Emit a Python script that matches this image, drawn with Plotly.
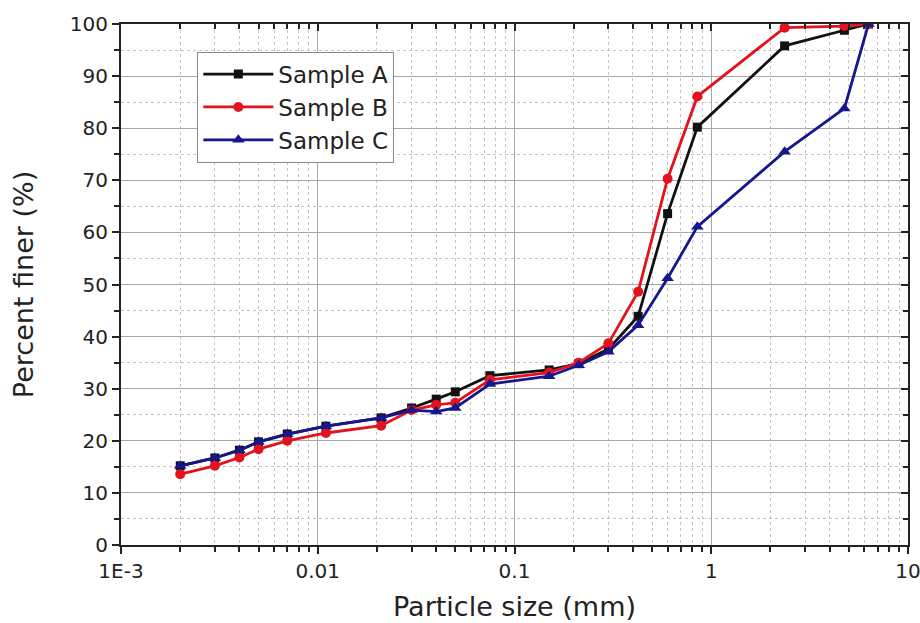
import plotly.graph_objects as go

# Particle sizes (mm)
size_a = [0.002, 0.003, 0.004, 0.005, 0.007, 0.011, 0.021, 0.03, 0.04, 0.05, 0.075, 0.15, 0.212, 0.3, 0.425, 0.6, 0.85, 2.36, 4.75, 6.3]
size_b = [0.002, 0.003, 0.004, 0.005, 0.007, 0.011, 0.021, 0.03, 0.04, 0.05, 0.075, 0.15, 0.212, 0.3, 0.425, 0.6, 0.85, 2.36, 4.75, 6.3]
size_c = [0.002, 0.003, 0.004, 0.005, 0.007, 0.011, 0.021, 0.03, 0.04, 0.05, 0.075, 0.15, 0.212, 0.3, 0.425, 0.6, 0.85, 2.36, 4.75, 6.3]

# Percent finer (%)
finer_a = [15.2, 16.7, 18.2, 19.8, 21.3, 22.8, 24.4, 26.3, 28.0, 29.4, 32.5, 33.6, 34.8, 37.6, 43.9, 63.6, 80.2, 95.8, 98.8, 100.0]
finer_b = [13.6, 15.2, 16.8, 18.4, 20.0, 21.5, 22.9, 25.9, 26.9, 27.3, 31.7, 33.1, 35.0, 38.7, 48.6, 70.3, 86.1, 99.3, 99.6, 100.0]
finer_c = [15.2, 16.7, 18.2, 19.8, 21.3, 22.8, 24.4, 25.9, 25.6, 26.3, 30.9, 32.4, 34.5, 37.1, 42.2, 51.2, 61.1, 75.5, 83.8, 100.0]

x_tickvals = [0.001, 0.01, 0.1, 1, 10]
x_ticktext = ["1E-3", "0.01", "0.1", "1", "10"]
x_minor_vals = [m * 10.0 ** e for e in range(-3, 1) for m in range(2, 10)]
y_tickvals = [0, 10, 20, 30, 40, 50, 60, 70, 80, 90, 100]
y_minor_vals = [5, 15, 25, 35, 45, 55, 65, 75, 85, 95]

BLACK = "#111111"
RED = "#e3121c"
BLUE = "#16168e"
AX = "#222222"

fig = go.Figure()
fig.add_trace(go.Scatter(x=size_a, y=finer_a, name="Sample A", mode="lines+markers",
                         line=dict(color=BLACK, width=2.8),
                         marker=dict(symbol="square", size=9, color=BLACK)))
fig.add_trace(go.Scatter(x=size_b, y=finer_b, name="Sample B", mode="lines+markers",
                         line=dict(color=RED, width=2.8),
                         marker=dict(symbol="circle", size=10, color=RED)))
fig.add_trace(go.Scatter(x=size_c, y=finer_c, name="Sample C", mode="lines+markers",
                         line=dict(color=BLUE, width=2.8),
                         marker=dict(symbol="triangle-up", size=11, color=BLUE)))
# empty trace to hold the mirrored top/right axes
fig.add_trace(go.Scatter(x=[], y=[], xaxis="x2", yaxis="y2", showlegend=False, hoverinfo="skip"))

font_family = "DejaVu Sans, Liberation Sans, Arial, sans-serif"
grid_major = "#a8a8a8"
grid_minor = "#c4c4c4"

fig.update_layout(
    width=920, height=623,
    margin=dict(l=121, r=12, t=24, b=78),
    paper_bgcolor="white", plot_bgcolor="white",
    font=dict(family=font_family, color=AX, size=20),
    showlegend=True,
    legend=dict(x=0.097, y=0.947, xanchor="left", yanchor="top",
                bgcolor="white", bordercolor="#888888", borderwidth=1,
                font=dict(size=23, color=AX), itemwidth=70,
                tracegroupgap=0),
    xaxis=dict(type="log", range=[-3, 1], tickmode="array", tickvals=x_tickvals, ticktext=x_ticktext,
               ticks="outside", ticklen=7, tickwidth=2, tickcolor=AX,
               showline=True, linecolor=AX, linewidth=2,
               showgrid=True, gridcolor=grid_major, gridwidth=1,
               zeroline=False, automargin=False, ticklabeloverflow="allow",
               minor=dict(tickmode="array", tickvals=x_minor_vals, ticks="outside", ticklen=5, tickwidth=2, tickcolor=AX,
                          showgrid=True, gridcolor=grid_minor, griddash="dot", gridwidth=1),
               title=dict(text="Particle size (mm)", font=dict(size=27), standoff=15),
               tickfont=dict(size=20)),
    yaxis=dict(range=[0, 100], tickmode="array", tickvals=y_tickvals,
               ticks="outside", ticklen=7, tickwidth=2, tickcolor=AX,
               showline=True, linecolor=AX, linewidth=2,
               showgrid=True, gridcolor=grid_major, gridwidth=1,
               zeroline=False, automargin=False,
               minor=dict(tickmode="array", tickvals=y_minor_vals, ticks="outside", ticklen=5, tickwidth=2, tickcolor=AX,
                          showgrid=True, gridcolor=grid_minor, griddash="dot", gridwidth=1),
               title=dict(text="Percent finer (%)", font=dict(size=27), standoff=28),
               tickfont=dict(size=20)),
    xaxis2=dict(type="log", range=[-3, 1], overlaying="x", side="top",
                tickmode="array", tickvals=x_tickvals, showticklabels=False,
                ticks="inside", ticklen=7, tickwidth=2, tickcolor=AX,
                showline=True, linecolor=AX, linewidth=2,
                showgrid=False, zeroline=False, automargin=False,
                minor=dict(tickmode="array", tickvals=x_minor_vals, ticks="inside", ticklen=5, tickwidth=2,
                           tickcolor=AX, showgrid=False)),
    yaxis2=dict(range=[0, 100], overlaying="y", side="right",
                tickmode="array", tickvals=y_tickvals, showticklabels=False,
                ticks="inside", ticklen=7, tickwidth=2, tickcolor=AX,
                showline=True, linecolor=AX, linewidth=2,
                showgrid=False, zeroline=False, automargin=False,
                minor=dict(tickmode="array", tickvals=y_minor_vals, ticks="inside", ticklen=5, tickwidth=2,
                           tickcolor=AX, showgrid=False)),
)

fig.write_html("out.html", config={"displayModeBar": False},
               post_script="document.body.style.margin='0px';")
